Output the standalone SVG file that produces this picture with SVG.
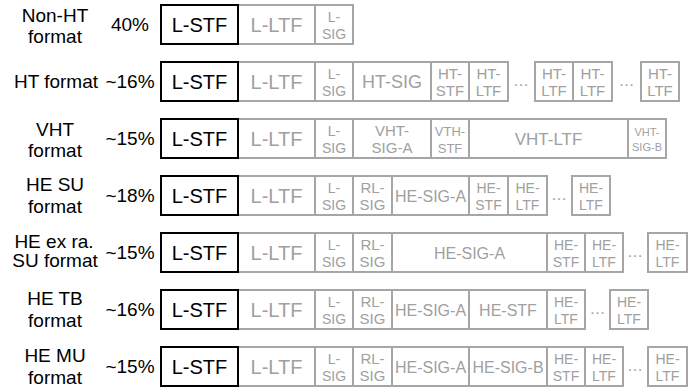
<svg xmlns="http://www.w3.org/2000/svg" width="694" height="388" viewBox="0 0 694 388">
<style>
text{font-family:"Liberation Sans",Arial,sans-serif;text-anchor:middle}
.b{fill:#fff;stroke:#a6a6a6;stroke-width:2}
.k{fill:#fff;stroke:#000;stroke-width:2}
.g{fill:#a0a0a0}
.lbl{font-size:19px;fill:#000}
.big{font-size:20px}
.s{font-size:14px}
.m{font-size:15px}
.he{font-size:16px}
.d{font-size:16px;fill:#a0a0a0}
</style>
<rect width="694" height="388" fill="#fff"/>

<!-- Row 1: Non-HT -->
<g id="nonht" transform="translate(0,5)">
  <text class="lbl" x="55" y="17">Non-HT</text>
  <text class="lbl" x="55" y="38">format</text>
  <text class="lbl" x="130" y="26">40%</text>
  <g id="nonht-lltf"><rect class="b" x="238" y="0" width="77" height="39"/><text class="g big" x="276.5" y="26.5">L-LTF</text></g>
  <g id="nonht-lsig"><rect class="b" x="315" y="0" width="38" height="39"/><text class="g s" x="334" y="17">L-</text><text class="g s" x="334" y="34">SIG</text></g>
  <g id="nonht-lstf"><rect class="k" x="161" y="0" width="77" height="39"/><text class="big" x="199.5" y="26.5">L-STF</text></g>
</g>

<!-- Row 2: HT -->
<g id="ht" transform="translate(0,62)">
  <text class="lbl" x="56" y="26">HT format</text>
  <text class="lbl" x="130" y="26">~16%</text>
  <g id="ht-lltf"><rect class="b" x="238" y="0" width="77" height="39"/><text class="g big" x="276.5" y="26.5">L-LTF</text></g>
  <g id="ht-lsig"><rect class="b" x="315" y="0" width="38" height="39"/><text class="g s" x="334" y="17">L-</text><text class="g s" x="334" y="34">SIG</text></g>
  <g id="ht-htsig"><rect class="b" x="353" y="0" width="78" height="39"/><text class="g" style="font-size:18px" x="392" y="26">HT-SIG</text></g>
  <g id="ht-htstf"><rect class="b" x="431" y="0" width="38" height="39"/><text class="g m" x="450" y="17">HT-</text><text class="g m" x="450" y="34">STF</text></g>
  <g id="ht-htltf1"><rect class="b" x="469" y="0" width="39" height="39"/><text class="g m" x="488.5" y="17">HT-</text><text class="g m" x="488.5" y="34">LTF</text></g>
  <text class="d" x="521" y="24">…</text>
  <g id="ht-htltf2"><rect class="b" x="535" y="0" width="38" height="39"/><text class="g m" x="554" y="17">HT-</text><text class="g m" x="554" y="34">LTF</text></g>
  <g id="ht-htltf3"><rect class="b" x="573" y="0" width="39" height="39"/><text class="g m" x="592.5" y="17">HT-</text><text class="g m" x="592.5" y="34">LTF</text></g>
  <text class="d" x="626.5" y="24">…</text>
  <g id="ht-htltf4"><rect class="b" x="641" y="0" width="38" height="39"/><text class="g m" x="660" y="17">HT-</text><text class="g m" x="660" y="34">LTF</text></g>
  <g id="ht-lstf"><rect class="k" x="161" y="0" width="77" height="39"/><text class="big" x="199.5" y="26.5">L-STF</text></g>
</g>

<!-- Row 3: VHT -->
<g id="vht" transform="translate(0,119)">
  <text class="lbl" x="55" y="17">VHT</text>
  <text class="lbl" x="55" y="38">format</text>
  <text class="lbl" x="130" y="26">~15%</text>
  <g id="vht-lltf"><rect class="b" x="238" y="0" width="77" height="39"/><text class="g big" x="276.5" y="26.5">L-LTF</text></g>
  <g id="vht-lsig"><rect class="b" x="315" y="0" width="38" height="39"/><text class="g s" x="334" y="17">L-</text><text class="g s" x="334" y="34">SIG</text></g>
  <g id="vht-siga"><rect class="b" x="353" y="0" width="78" height="39"/><text class="g m" x="392" y="17">VHT-</text><text class="g m" x="392" y="34">SIG-A</text></g>
  <g id="vht-stf"><rect class="b" x="431" y="0" width="38" height="39"/><text class="g" style="font-size:13px" x="450" y="17">VTH-</text><text class="g" style="font-size:13px" x="450" y="34">STF</text></g>
  <g id="vht-ltf"><rect class="b" x="469" y="0" width="159" height="39"/><text class="g" style="font-size:17px" x="548.5" y="25.5">VHT-LTF</text></g>
  <g id="vht-sigb"><rect class="b" x="628" y="0" width="38" height="39"/><text class="g" style="font-size:11px" x="647" y="17">VHT-</text><text class="g" style="font-size:11px" x="647" y="32">SIG-B</text></g>
  <g id="vht-lstf"><rect class="k" x="161" y="0" width="77" height="39"/><text class="big" x="199.5" y="26.5">L-STF</text></g>
</g>

<!-- Row 4: HE SU -->
<g id="hesu" transform="translate(0,176)">
  <text class="lbl" x="55" y="15">HE SU</text>
  <text class="lbl" x="55" y="37">format</text>
  <text class="lbl" x="130" y="26">~18%</text>
  <g id="hesu-lltf"><rect class="b" x="238" y="0" width="77" height="39"/><text class="g big" x="276.5" y="26.5">L-LTF</text></g>
  <g id="hesu-lsig"><rect class="b" x="315" y="0" width="38" height="39"/><text class="g s" x="334" y="17">L-</text><text class="g s" x="334" y="34">SIG</text></g>
  <g id="hesu-rlsig"><rect class="b" x="353" y="0" width="39" height="39"/><text class="g m" x="372.5" y="17">RL-</text><text class="g m" x="372.5" y="34">SIG</text></g>
  <g id="hesu-siga"><rect class="b" x="392" y="0" width="77" height="39"/><text class="g he" x="430.5" y="25.5">HE-SIG-A</text></g>
  <g id="hesu-stf"><rect class="b" x="469" y="0" width="39" height="39"/><text class="g s" x="488.5" y="17">HE-</text><text class="g s" x="488.5" y="34">STF</text></g>
  <g id="hesu-ltf1"><rect class="b" x="508" y="0" width="39" height="39"/><text class="g s" x="527.5" y="17">HE-</text><text class="g s" x="527.5" y="34">LTF</text></g>
  <text class="d" x="559" y="24">…</text>
  <g id="hesu-ltf2"><rect class="b" x="572" y="0" width="38" height="39"/><text class="g s" x="591" y="17">HE-</text><text class="g s" x="591" y="34">LTF</text></g>
  <g id="hesu-lstf"><rect class="k" x="161" y="0" width="77" height="39"/><text class="big" x="199.5" y="26.5">L-STF</text></g>
</g>

<!-- Row 5: HE extended range SU -->
<g id="heext" transform="translate(0,233)">
  <text class="lbl" x="54" y="15">HE ex ra.</text>
  <text class="lbl" x="55" y="34">SU format</text>
  <text class="lbl" x="130" y="26">~15%</text>
  <g id="heext-lltf"><rect class="b" x="238" y="0" width="77" height="39"/><text class="g big" x="276.5" y="26.5">L-LTF</text></g>
  <g id="heext-lsig"><rect class="b" x="315" y="0" width="38" height="39"/><text class="g s" x="334" y="17">L-</text><text class="g s" x="334" y="34">SIG</text></g>
  <g id="heext-rlsig"><rect class="b" x="353" y="0" width="39" height="39"/><text class="g m" x="372.5" y="17">RL-</text><text class="g m" x="372.5" y="34">SIG</text></g>
  <g id="heext-siga"><rect class="b" x="392" y="0" width="155" height="39"/><text class="g he" x="469.5" y="25.5">HE-SIG-A</text></g>
  <g id="heext-stf"><rect class="b" x="547" y="0" width="38" height="39"/><text class="g s" x="566" y="17">HE-</text><text class="g s" x="566" y="34">STF</text></g>
  <g id="heext-ltf1"><rect class="b" x="585" y="0" width="38" height="39"/><text class="g s" x="604" y="17">HE-</text><text class="g s" x="604" y="34">LTF</text></g>
  <text class="d" x="635" y="24">…</text>
  <g id="heext-ltf2"><rect class="b" x="648" y="0" width="39" height="39"/><text class="g s" x="667.5" y="17">HE-</text><text class="g s" x="667.5" y="34">LTF</text></g>
  <g id="heext-lstf"><rect class="k" x="161" y="0" width="77" height="39"/><text class="big" x="199.5" y="26.5">L-STF</text></g>
</g>

<!-- Row 6: HE TB -->
<g id="hetb" transform="translate(0,290)">
  <text class="lbl" x="55" y="15">HE TB</text>
  <text class="lbl" x="55" y="37">format</text>
  <text class="lbl" x="130" y="26">~16%</text>
  <g id="hetb-lltf"><rect class="b" x="238" y="0" width="77" height="39"/><text class="g big" x="276.5" y="26.5">L-LTF</text></g>
  <g id="hetb-lsig"><rect class="b" x="315" y="0" width="38" height="39"/><text class="g s" x="334" y="17">L-</text><text class="g s" x="334" y="34">SIG</text></g>
  <g id="hetb-rlsig"><rect class="b" x="353" y="0" width="39" height="39"/><text class="g m" x="372.5" y="17">RL-</text><text class="g m" x="372.5" y="34">SIG</text></g>
  <g id="hetb-siga"><rect class="b" x="392" y="0" width="77" height="39"/><text class="g he" x="430.5" y="25.5">HE-SIG-A</text></g>
  <g id="hetb-stf"><rect class="b" x="469" y="0" width="78" height="39"/><text class="g he" x="508" y="25.5">HE-STF</text></g>
  <g id="hetb-ltf1"><rect class="b" x="547" y="0" width="38" height="39"/><text class="g s" x="566" y="17">HE-</text><text class="g s" x="566" y="34">LTF</text></g>
  <text class="d" x="597.5" y="24">…</text>
  <g id="hetb-ltf2"><rect class="b" x="610" y="0" width="38" height="39"/><text class="g s" x="629" y="17">HE-</text><text class="g s" x="629" y="34">LTF</text></g>
  <g id="hetb-lstf"><rect class="k" x="161" y="0" width="77" height="39"/><text class="big" x="199.5" y="26.5">L-STF</text></g>
</g>

<!-- Row 7: HE MU -->
<g id="hemu" transform="translate(0,347)">
  <text class="lbl" x="55" y="15">HE MU</text>
  <text class="lbl" x="55" y="37">format</text>
  <text class="lbl" x="130" y="26">~15%</text>
  <g id="hemu-lltf"><rect class="b" x="238" y="0" width="77" height="39"/><text class="g big" x="276.5" y="26.5">L-LTF</text></g>
  <g id="hemu-lsig"><rect class="b" x="315" y="0" width="38" height="39"/><text class="g s" x="334" y="17">L-</text><text class="g s" x="334" y="34">SIG</text></g>
  <g id="hemu-rlsig"><rect class="b" x="353" y="0" width="39" height="39"/><text class="g m" x="372.5" y="17">RL-</text><text class="g m" x="372.5" y="34">SIG</text></g>
  <g id="hemu-siga"><rect class="b" x="392" y="0" width="77" height="39"/><text class="g he" x="430.5" y="25.5">HE-SIG-A</text></g>
  <g id="hemu-sigb"><rect class="b" x="469" y="0" width="78" height="39"/><text class="g he" x="508" y="25.5">HE-SIG-B</text></g>
  <g id="hemu-stf"><rect class="b" x="547" y="0" width="38" height="39"/><text class="g s" x="566" y="17">HE-</text><text class="g s" x="566" y="34">STF</text></g>
  <g id="hemu-ltf1"><rect class="b" x="585" y="0" width="38" height="39"/><text class="g s" x="604" y="17">HE-</text><text class="g s" x="604" y="34">LTF</text></g>
  <text class="d" x="635" y="24">…</text>
  <g id="hemu-ltf2"><rect class="b" x="648" y="0" width="39" height="39"/><text class="g s" x="667.5" y="17">HE-</text><text class="g s" x="667.5" y="34">LTF</text></g>
  <g id="hemu-lstf"><rect class="k" x="161" y="0" width="77" height="39"/><text class="big" x="199.5" y="26.5">L-STF</text></g>
</g>

<g id="connectors"/>
</svg>
